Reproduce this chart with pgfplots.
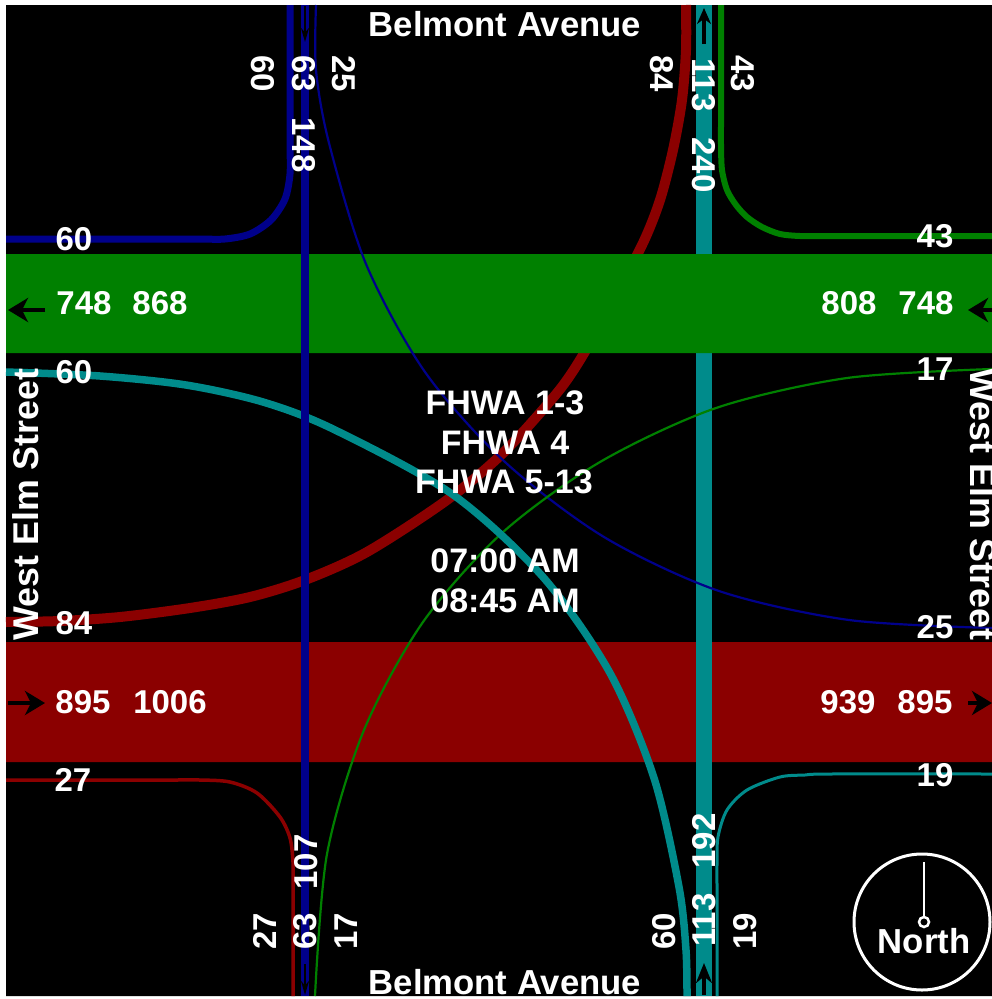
\documentclass[border=0pt]{standalone}
\usepackage{fontspec}
\setmainfont{Liberation Sans}
\usepackage{pgfplots}
\pgfplotsset{compat=1.18}
\usetikzlibrary{arrows.meta}
\definecolor{cgreen}{RGB}{0,128,0}
\definecolor{cred}{RGB}{139,0,0}
\definecolor{cblue}{RGB}{0,0,139}
\definecolor{cteal}{RGB}{0,139,139}
\begin{document}
\begin{tikzpicture}
\begin{axis}[
  scale only axis, width=992pt, height=999pt,
  xmin=0, xmax=992, ymin=0, ymax=999, y dir=reverse,
  hide axis, clip mode=individual,
  every axis plot/.append style={no markers, line join=round},
]
% page and background
\addplot[fill=white, draw=none] coordinates {(0,0) (992,0) (992,999) (0,999) (0,0)};
\addplot[fill=black, draw=none] coordinates {(6,5) (992,5) (992,996) (6,996) (6,5)};
% red band, red thick turn, teal through lane (under the green band)
\addplot[fill=cred, draw=none] coordinates {(6,642) (992,642) (992,762) (6,762) (6,642)};
\addplot[cred, line width=10pt, smooth] coordinates {
 (6,622) (60,621) (120,617) (190,608) (250,597) (305,580) (367,552) (447,500) (503,453) (557,393) (583,355) (612,302) (643,243) (660,200) (673,150) (682,100) (686,50) (686,5)};
\addplot[cteal, line width=16pt] coordinates {(704,5) (704,996)};
% green band
\addplot[fill=cgreen, draw=none] coordinates {(6,254) (992,254) (992,353) (6,353) (6,254)};
% turns
\addplot[cblue, line width=7pt, smooth] coordinates {
 (6,239) (170,239) (200,239) (225,239) (250,234) (271,220) (285,199) (290,174) (290,145) (290,120) (290,5)};
\addplot[cgreen, line width=6pt, smooth] coordinates {
 (721,5) (721,120) (721,145) (722,170) (727,190) (736,205) (747,217) (762,227) (780,234) (800,236) (825,236) (992,236)};
\addplot[cred, line width=3.5pt, smooth] coordinates {
 (6,780) (170,780) (200,780) (230,782) (257,793) (280,817) (290,838) (293,862) (293,890) (293,996)};
\addplot[cteal, line width=3pt, smooth] coordinates {
 (717,996) (717,890) (717,865) (718,837) (727,810) (747,790) (780,777) (805,775) (830,774) (992,774)};
\addplot[cblue, line width=2.2pt, smooth] coordinates {
 (316,5) (316,70) (329,143) (366,264) (425,372) (505,462) (604,537) (719,591) (849,620) (992,628)};
\addplot[cgreen, line width=2.2pt, smooth] coordinates {
 (315,996) (327,854) (364,730) (423,622) (502,533) (600,462) (716,408) (847,378) (992,369)};
\addplot[cteal, line width=7.5pt, smooth] coordinates {
 (6,372) (100,376) (186,385) (263,402) (333,429) (452,494) (543,577) (610,673) (654,778) (679,887) (686,950) (687,996)};
% through blue lane, on top
\addplot[cblue, line width=8pt] coordinates {(305,5) (305,996)};
% direction arrows
\addplot[black, line width=4pt, -{Stealth[length=20pt,width=24pt,inset=6pt]}] coordinates {(45,310) (8,310)};
\addplot[black, line width=4pt, -{Stealth[length=20pt,width=24pt,inset=6pt]}] coordinates {(992,310) (968,310)};
\addplot[black, line width=4pt, -{Stealth[length=20pt,width=24pt,inset=6pt]}] coordinates {(8,703) (45,703)};
\addplot[black, line width=4pt, -{Stealth[length=20pt,width=24pt,inset=6pt]}] coordinates {(968,703) (992,703)};
\addplot[black, line width=4pt, -{Stealth[length=16pt,width=14pt]}] coordinates {(704,44) (704,8)};
\addplot[black, line width=4pt, -{Stealth[length=20pt,width=16pt]}] coordinates {(704,995) (704,963)};
\addplot[black, line width=2pt, -{Stealth[length=14pt,width=8pt]}] coordinates {(305,6) (305,42)};
\addplot[black, line width=2pt, -{Stealth[length=14pt,width=8pt]}] coordinates {(305,964) (305,995)};
% text
\tikzset{t/.style={text=white, inner sep=0pt, font=\fontsize{33}{33}\selectfont\bfseries},
         u/.style={text=white, inner sep=0pt, font=\fontsize{34.7}{35}\selectfont\bfseries},
         v/.style={text=white, inner sep=0pt, font=\fontsize{34}{35}\selectfont\bfseries}}
\node[u] at (axis cs:505,24) {Belmont Avenue};
\node[u] at (axis cs:505,982) {Belmont Avenue};
\node[u,font=\fontsize{35.8}{36}\selectfont\bfseries,rotate=90] at (axis cs:26,504.5) {West Elm Street};
\node[u,overlay,font=\fontsize{35.8}{36}\selectfont\bfseries,rotate=-90] at (axis cs:983,504.5) {West Elm Street};
% top
\node[t,rotate=-90] at (axis cs:263,74) {60};
\node[t,rotate=-90] at (axis cs:304,74) {63};
\node[t,rotate=-90] at (axis cs:344,74) {25};
\node[t,rotate=-90] at (axis cs:304,145) {148};
\node[t,rotate=-90] at (axis cs:662,74) {84};
\node[t,rotate=-90] at (axis cs:704,85) {113};
\node[t,rotate=-90] at (axis cs:743,74) {43};
\node[t,rotate=-90] at (axis cs:704,165) {240};
% bottom
\node[t,rotate=90] at (axis cs:265,931) {27};
\node[t,rotate=90] at (axis cs:305,931) {63};
\node[t,rotate=90] at (axis cs:346,931) {17};
\node[t,rotate=90] at (axis cs:306,862) {107};
\node[t,rotate=90] at (axis cs:664,931) {60};
\node[t,rotate=90] at (axis cs:704,920) {113};
\node[t,rotate=90] at (axis cs:745,931) {19};
\node[t,rotate=90] at (axis cs:704,841) {192};
% left
\node[t] at (axis cs:74,239) {60};
\node[t] at (axis cs:84,303) {748};
\node[t] at (axis cs:160,303) {868};
\node[t] at (axis cs:74,372) {60};
\node[t] at (axis cs:74,623) {84};
\node[t] at (axis cs:83,702) {895};
\node[t] at (axis cs:170,702) {1006};
\node[t] at (axis cs:73,780) {27};
% right
\node[t] at (axis cs:935,236) {43};
\node[t] at (axis cs:849,303) {808};
\node[t] at (axis cs:926,303) {748};
\node[t] at (axis cs:935,369) {17};
\node[t] at (axis cs:935,627) {25};
\node[t] at (axis cs:848,702) {939};
\node[t] at (axis cs:925,702) {895};
\node[t] at (axis cs:935,775) {19};
% centre
\node[v] at (axis cs:505,403) {FHWA 1-3};
\node[v] at (axis cs:505,443) {FHWA 4};
\node[v] at (axis cs:504,482) {FHWA 5-13};
\node[v] at (axis cs:505,561) {07:00 AM};
\node[v] at (axis cs:505,601) {08:45 AM};
% north
\draw[white, line width=3pt] (axis cs:922,922) circle[radius=68pt];
\draw[white, line width=2.5pt] (axis cs:924,862) -- (axis cs:924,917);
\draw[white, line width=2.5pt] (axis cs:924,922) circle[radius=5pt];
\node[u] at (axis cs:924,941) {North};
\end{axis}
\end{tikzpicture}
\end{document}
